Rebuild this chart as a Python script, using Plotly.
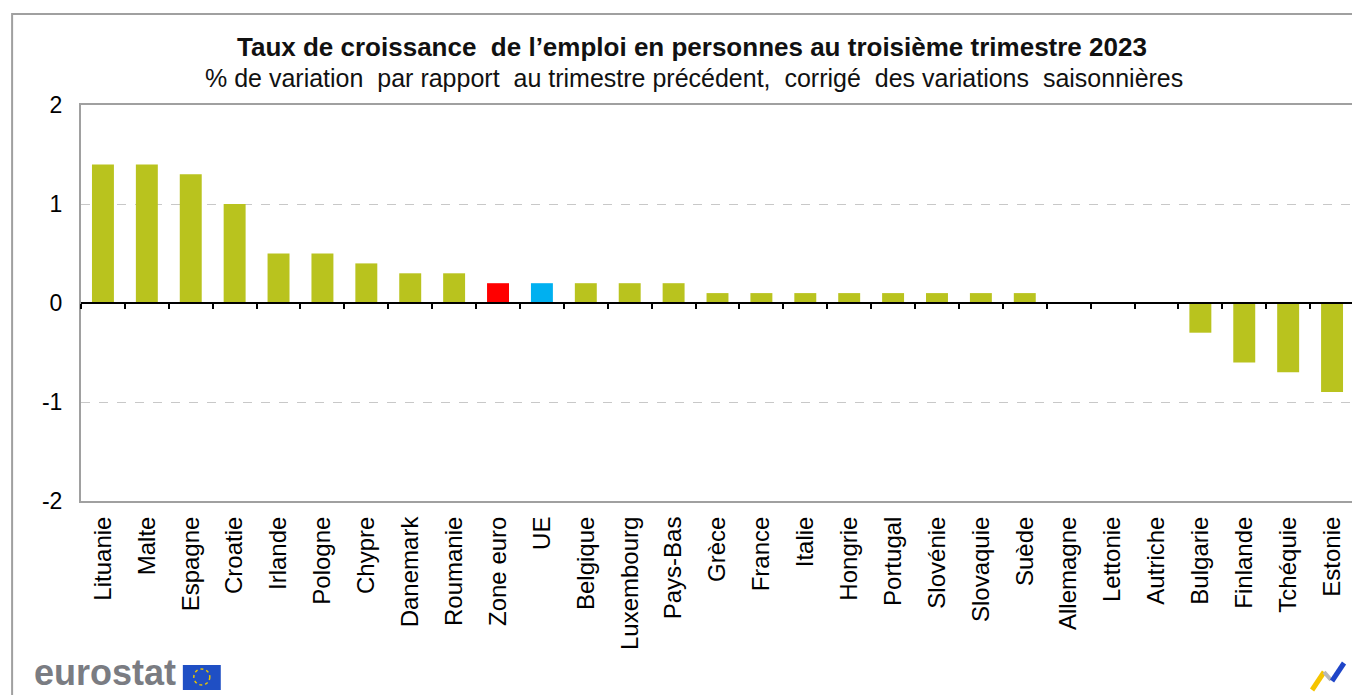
import plotly.graph_objects as go

countries = ["Lituanie", "Malte", "Espagne", "Croatie", "Irlande", "Pologne", "Chypre",
             "Danemark", "Roumanie", "Zone euro", "UE", "Belgique", "Luxembourg", "Pays-Bas",
             "Grèce", "France", "Italie", "Hongrie", "Portugal", "Slovénie", "Slovaquie",
             "Suède", "Allemagne", "Lettonie", "Autriche", "Bulgarie", "Finlande",
             "Tchéquie", "Estonie"]
growth = [1.4, 1.4, 1.3, 1.0, 0.5, 0.5, 0.4, 0.3, 0.3, 0.2, 0.2, 0.2, 0.2, 0.2,
          0.1, 0.1, 0.1, 0.1, 0.1, 0.1, 0.1, 0.1, 0.0, 0.0, 0.0, -0.3, -0.6, -0.7, -0.9]
y_ticks = [-2, -1, 0, 1, 2]

GREEN = "#B9C31E"
special = {"Zone euro": "#FF0000", "UE": "#00B0F0"}
colors = [special.get(c, GREEN) for c in countries]

n = len(countries)
FONT = "Liberation Sans, Arial, sans-serif"

fig = go.Figure()
fig.add_trace(go.Bar(x=countries, y=growth, marker=dict(color=colors, line=dict(width=0)),
                     hoverinfo="x+y"))
# helper trace to activate the zero-line axis carrying the category separators
fig.add_trace(go.Scatter(x=list(range(n)), y=growth, xaxis="x2", mode="markers",
                         marker=dict(opacity=0), hoverinfo="skip", showlegend=False))

# page has an 8px body margin: figure is shifted by 8px, so sizes/margins compensate
fig.update_layout(
    width=1352, height=687,
    margin=dict(l=73, r=4, t=97, b=194),
    paper_bgcolor="white", plot_bgcolor="white",
    showlegend=False,
    bargap=0.5,
    font=dict(family=FONT, color="#000000"),
    xaxis=dict(
        type="category", range=[-0.5, n - 0.5],
        tickangle=-90, tickfont=dict(size=24, family=FONT),
        ticks="", showgrid=False, zeroline=False,
        showline=True, mirror=True, linecolor="#A0A0A0", linewidth=2,
        ticklabelstandoff=4,
    ),
    xaxis2=dict(
        overlaying="x", anchor="free", position=0.5,
        range=[-0.5, n - 0.5],
        tickvals=[i - 0.5 for i in range(n + 1)],
        ticks="outside", ticklen=5, tickwidth=2, tickcolor="#000000",
        showticklabels=False, showgrid=False, zeroline=False,
        showline=True, linecolor="#000000", linewidth=2,
    ),
    yaxis=dict(
        range=[-2, 2], tickvals=y_ticks, ticktext=[str(v) for v in y_ticks],
        tickfont=dict(size=23, family=FONT),
        ticks="", showgrid=True, gridcolor="#C8C8C8", griddash="dash", gridwidth=1,
        zeroline=False, showline=True, mirror=True, linecolor="#A0A0A0", linewidth=2,
        ticklabelstandoff=12,
    ),
)

def px_x(p):
    return (p - 81) / 1275

def px_y(p):
    return (501 - p) / 396

annotations = [
    dict(text="<b>Taux de croissance\u00a0 de l\u2019emploi en personnes au troisième trimestre 2023</b>",
         x=px_x(693), y=px_y(47), xref="paper", yref="paper",
         xanchor="center", yanchor="middle", showarrow=False,
         font=dict(size=26, family=FONT, color="#111111")),
    dict(text="% de variation\u00a0 par rapport\u00a0 au trimestre précédent,\u00a0 corrigé\u00a0 des variations\u00a0 saisonnières",
         x=px_x(695), y=px_y(78), xref="paper", yref="paper",
         xanchor="center", yanchor="middle", showarrow=False,
         font=dict(size=25, family=FONT, color="#111111")),
    dict(text="<b>eurostat</b>",
         x=px_x(32), y=px_y(672), xref="paper", yref="paper",
         xanchor="left", yanchor="middle", showarrow=False,
         font=dict(size=36, family=FONT, color="#7A7C82")),
]
fig.update_layout(annotations=annotations)

shapes = [
    # outer frame
    dict(type="rect", xref="paper", yref="paper", x0=px_x(12), x1=px_x(1380),
         y0=px_y(720), y1=px_y(14), line=dict(color="#A0A0A0", width=2), layer="below"),
    # EU flag
    dict(type="rect", xref="paper", yref="paper", x0=px_x(183), x1=px_x(221),
         y0=px_y(690), y1=px_y(665), fillcolor="#1F4FC4", line=dict(width=0)),
    dict(type="circle", xref="paper", yref="paper", x0=px_x(194), x1=px_x(210),
         y0=px_y(685), y1=px_y(669), line=dict(color="#E8C400", width=1.5, dash="dot")),
    # bottom-right logo strokes
    dict(type="line", xref="paper", yref="paper", x0=px_x(1314), x1=px_x(1326),
         y0=px_y(690), y1=px_y(672), line=dict(color="#F5C400", width=5)),
    dict(type="line", xref="paper", yref="paper", x0=px_x(1326), x1=px_x(1333),
         y0=px_y(672), y1=px_y(680), line=dict(color="#B8B8B8", width=4)),
    dict(type="line", xref="paper", yref="paper", x0=px_x(1334), x1=px_x(1346),
         y0=px_y(681), y1=px_y(663), line=dict(color="#1E44C8", width=5)),
]
fig.update_layout(shapes=shapes)

fig.write_html("out.html")
